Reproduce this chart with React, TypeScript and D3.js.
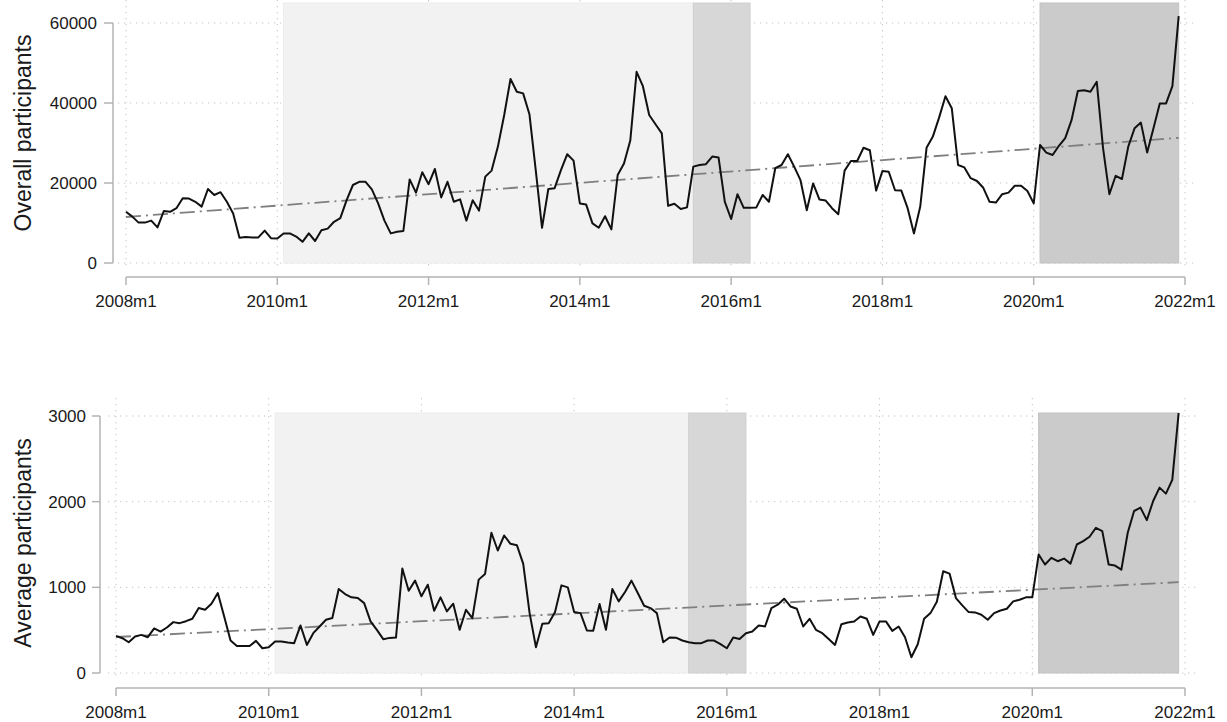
import React from "react";
import * as d3 from "d3";

// ---------- data ----------
const xTickMonths = [0, 24, 48, 72, 96, 120, 144, 168];
const xTickLabels = ["2008m1", "2010m1", "2012m1", "2014m1", "2016m1", "2018m1", "2020m1", "2022m1"];

const overallTicks = [0, 20000, 40000, 60000];
const averageTicks = [0, 1000, 2000, 3000];

// monthly values 2008m1 .. 2021m12
const overall = [
  12800, 11600, 10100, 10100, 10600, 8900, 13000, 12800, 13700, 16200, 16100, 15300,
  14100, 18500, 17000, 17700, 15300, 12400, 6300, 6500, 6400, 6400, 8100, 6200,
  6100, 7400, 7400, 6600, 5300, 7400, 5500, 8200, 8600, 10300, 11200, 15700,
  19500, 20300, 20300, 18400, 14900, 10600, 7400, 7800, 8000, 20900, 17600, 22700,
  19700, 23500, 16400, 20300, 15300, 15900, 10600, 15700, 13100, 21600, 23100, 29100,
  37000, 46000, 42800, 42400, 37200, 23200, 8800, 18500, 18700, 23200, 27200, 25600,
  14900, 14600, 9900, 8800, 11700, 8400, 22000, 24900, 30600, 47800, 44200, 37000,
  34700, 32400, 14300, 14800, 13500, 13900, 24100, 24500, 24700, 26600, 26400, 15300,
  11000, 17200, 13800, 13800, 13900, 17000, 15300, 23700, 24500, 27200, 24100, 20700,
  13200, 19900, 15900, 15600, 13700, 12200, 23100, 25500, 25500, 28800, 28200, 18100,
  23000, 22800, 18200, 18100, 13700, 7400, 14100, 28800, 31600, 36400, 41700, 38700,
  24500, 23900, 21200, 20500, 18800, 15300, 15100, 17200, 17600, 19300, 19300, 18000,
  14900, 29500, 27600, 27000, 29300, 31200, 35700, 43000, 43200, 42800, 45300, 28700,
  17200, 21800, 21000, 29100, 33700, 35100, 27600, 33700, 39900, 39900, 44200, 61700,
];

const average = [
  434, 406, 359, 426, 445, 418, 520, 484, 531, 594, 582, 605,
  633, 758, 738, 809, 934, 660, 379, 316, 316, 316, 375, 289,
  301, 367, 367, 355, 348, 555, 328, 465, 543, 621, 641, 980,
  922, 883, 875, 816, 602, 504, 395, 410, 414, 1219, 961, 1078,
  895, 1031, 727, 883, 719, 809, 504, 738, 641, 1090, 1156, 1637,
  1430, 1605, 1508, 1492, 1273, 699, 301, 574, 582, 711, 1023, 1000,
  711, 699, 496, 492, 805, 504, 980, 836, 945, 1078, 934, 785,
  758, 699, 359, 414, 412, 379, 359, 348, 348, 379, 379, 336,
  289, 414, 398, 465, 484, 555, 543, 758, 797, 867, 777, 750,
  543, 633, 504, 465, 398, 328, 570, 590, 602, 660, 633, 445,
  602, 602, 492, 543, 418, 184, 336, 633, 699, 832, 1187, 1160,
  875, 789, 711, 707, 680, 621, 699, 730, 750, 836, 855, 883,
  883, 1383, 1266, 1344, 1305, 1336, 1277, 1500, 1539, 1590, 1695, 1656,
  1266, 1254, 1207, 1637, 1891, 1930, 1785, 2008, 2164, 2094, 2254, 3035,
];

// linear trend (start at 2008m1, end at 2021m12)
const overallTrend = [11500, 31300];
const averageTrend = [420, 1060];

// shaded periods (month index from 2008m1)
const bandStarts = [25, 90, 145];
const bandEnds = [90, 99, 167];

// ---------- drawing ----------
const FONT = "Arial, 'Liberation Sans', sans-serif";
const bandFills = ["#f2f2f2", "#d7d7d7", "#cbcbcb"];
const bandStrokes = ["#ececec", "#cfcfcf", "#c2c2c2"];

type Geo = {
  x0: number; x1: number; y0: number; y1: number; shadeTop: number;
  ax: number; tickLen: number; labelGap: number; axY: number;
  gridL: number; gridR: number; gridT: number; titleX: number;
};

function Panel({ g, data, trend, ticks, yMax, title }: {
  g: Geo; data: number[]; trend: number[]; ticks: number[]; yMax: number; title: string;
}) {
  const n = data.length;
  const x = d3.scaleLinear().domain([0, 168]).range([g.x0, g.x1]);
  const y = d3.scaleLinear().domain([0, yMax]).range([g.y0, g.y1]);
  const line = d3.line<number>().x((_, i) => x(i)).y((d) => y(d));
  const trendLine = d3.line<number>().x((_, i) => x(i * (n - 1))).y((d) => y(d));
  const titleY = (g.shadeTop + g.y0) / 2;

  return (
    <g>
      {/* grid */}
      {ticks.map((t) => (
        <line key={"h" + t} x1={g.gridL} x2={g.gridR} y1={y(t)} y2={y(t)}
          stroke="#c4c4c4" strokeWidth={1} strokeDasharray="1.3 4.7" />
      ))}
      {xTickMonths.map((m) => (
        <line key={"v" + m} x1={x(m)} x2={x(m)} y1={g.gridT} y2={g.y0 + 6}
          stroke="#c4c4c4" strokeWidth={1} strokeDasharray="1.3 4.7" />
      ))}
      {/* shaded periods */}
      {bandStarts.map((s, i) => (
        <rect key={"b" + i} x={x(s)} y={g.shadeTop} width={x(bandEnds[i]) - x(s)} height={g.y0 - g.shadeTop}
          fill={bandFills[i]} stroke={bandStrokes[i]} strokeWidth={1} />
      ))}
      {/* trend */}
      <path d={trendLine(trend) || ""} fill="none" stroke="#7f7f7f" strokeWidth={1.8}
        strokeDasharray="15 5 2 5" />
      {/* series */}
      <path d={line(data) || ""} fill="none" stroke="#111" strokeWidth={2} strokeLinejoin="round" />
      {/* y axis */}
      <line x1={g.ax} x2={g.ax} y1={y(yMax)} y2={y(0)} stroke="#b3b3b3" strokeWidth={1.5} />
      {ticks.map((t) => (
        <g key={"yt" + t}>
          <line x1={g.ax - g.tickLen} x2={g.ax} y1={y(t)} y2={y(t)} stroke="#b3b3b3" strokeWidth={1.5} />
          <text x={g.ax - g.tickLen - g.labelGap} y={y(t)} dy="0.36em" textAnchor="end"
            fontFamily={FONT} fontSize={17} fill="#1a1a1a">{t}</text>
        </g>
      ))}
      {/* x axis */}
      <line x1={x(0)} x2={x(168)} y1={g.axY} y2={g.axY} stroke="#b3b3b3" strokeWidth={1.5} />
      {xTickMonths.map((m, i) => (
        <g key={"xt" + m}>
          <line x1={x(m)} x2={x(m)} y1={g.axY} y2={g.axY + 8} stroke="#b3b3b3" strokeWidth={1.5} />
          <text x={x(m)} y={g.axY + 30} textAnchor="middle" fontFamily={FONT} fontSize={17}
            fill="#1a1a1a">{xTickLabels[i]}</text>
        </g>
      ))}
      {/* title */}
      <text transform={`translate(${g.titleX},${titleY}) rotate(-90)`} textAnchor="middle" dy="0.35em"
        fontFamily={FONT} fontSize={23} fill="#1a1a1a">{title}</text>
    </g>
  );
}

const topGeo: Geo = {
  x0: 126, x1: 1185, y0: 263, y1: 23, shadeTop: 3,
  ax: 113, tickLen: 9, labelGap: 7, axY: 277,
  gridL: 118, gridR: 1198, gridT: 0, titleX: 23,
};
const botGeo: Geo = {
  x0: 116, x1: 1185, y0: 673, y1: 416, shadeTop: 413,
  ax: 100, tickLen: 8, labelGap: 6, axY: 688,
  gridL: 108, gridR: 1198, gridT: 398, titleX: 23,
};

export default function App() {
  return (
    <svg width={1227} height={722} style={{ position: "absolute", left: 0, top: 0, background: "#fff" }}>
      <rect width={1227} height={722} fill="#fff" />
      <Panel g={topGeo} data={overall} trend={overallTrend} ticks={overallTicks} yMax={60000}
        title="Overall participants" />
      <Panel g={botGeo} data={average} trend={averageTrend} ticks={averageTicks} yMax={3000}
        title="Average participants" />
    </svg>
  );
}
